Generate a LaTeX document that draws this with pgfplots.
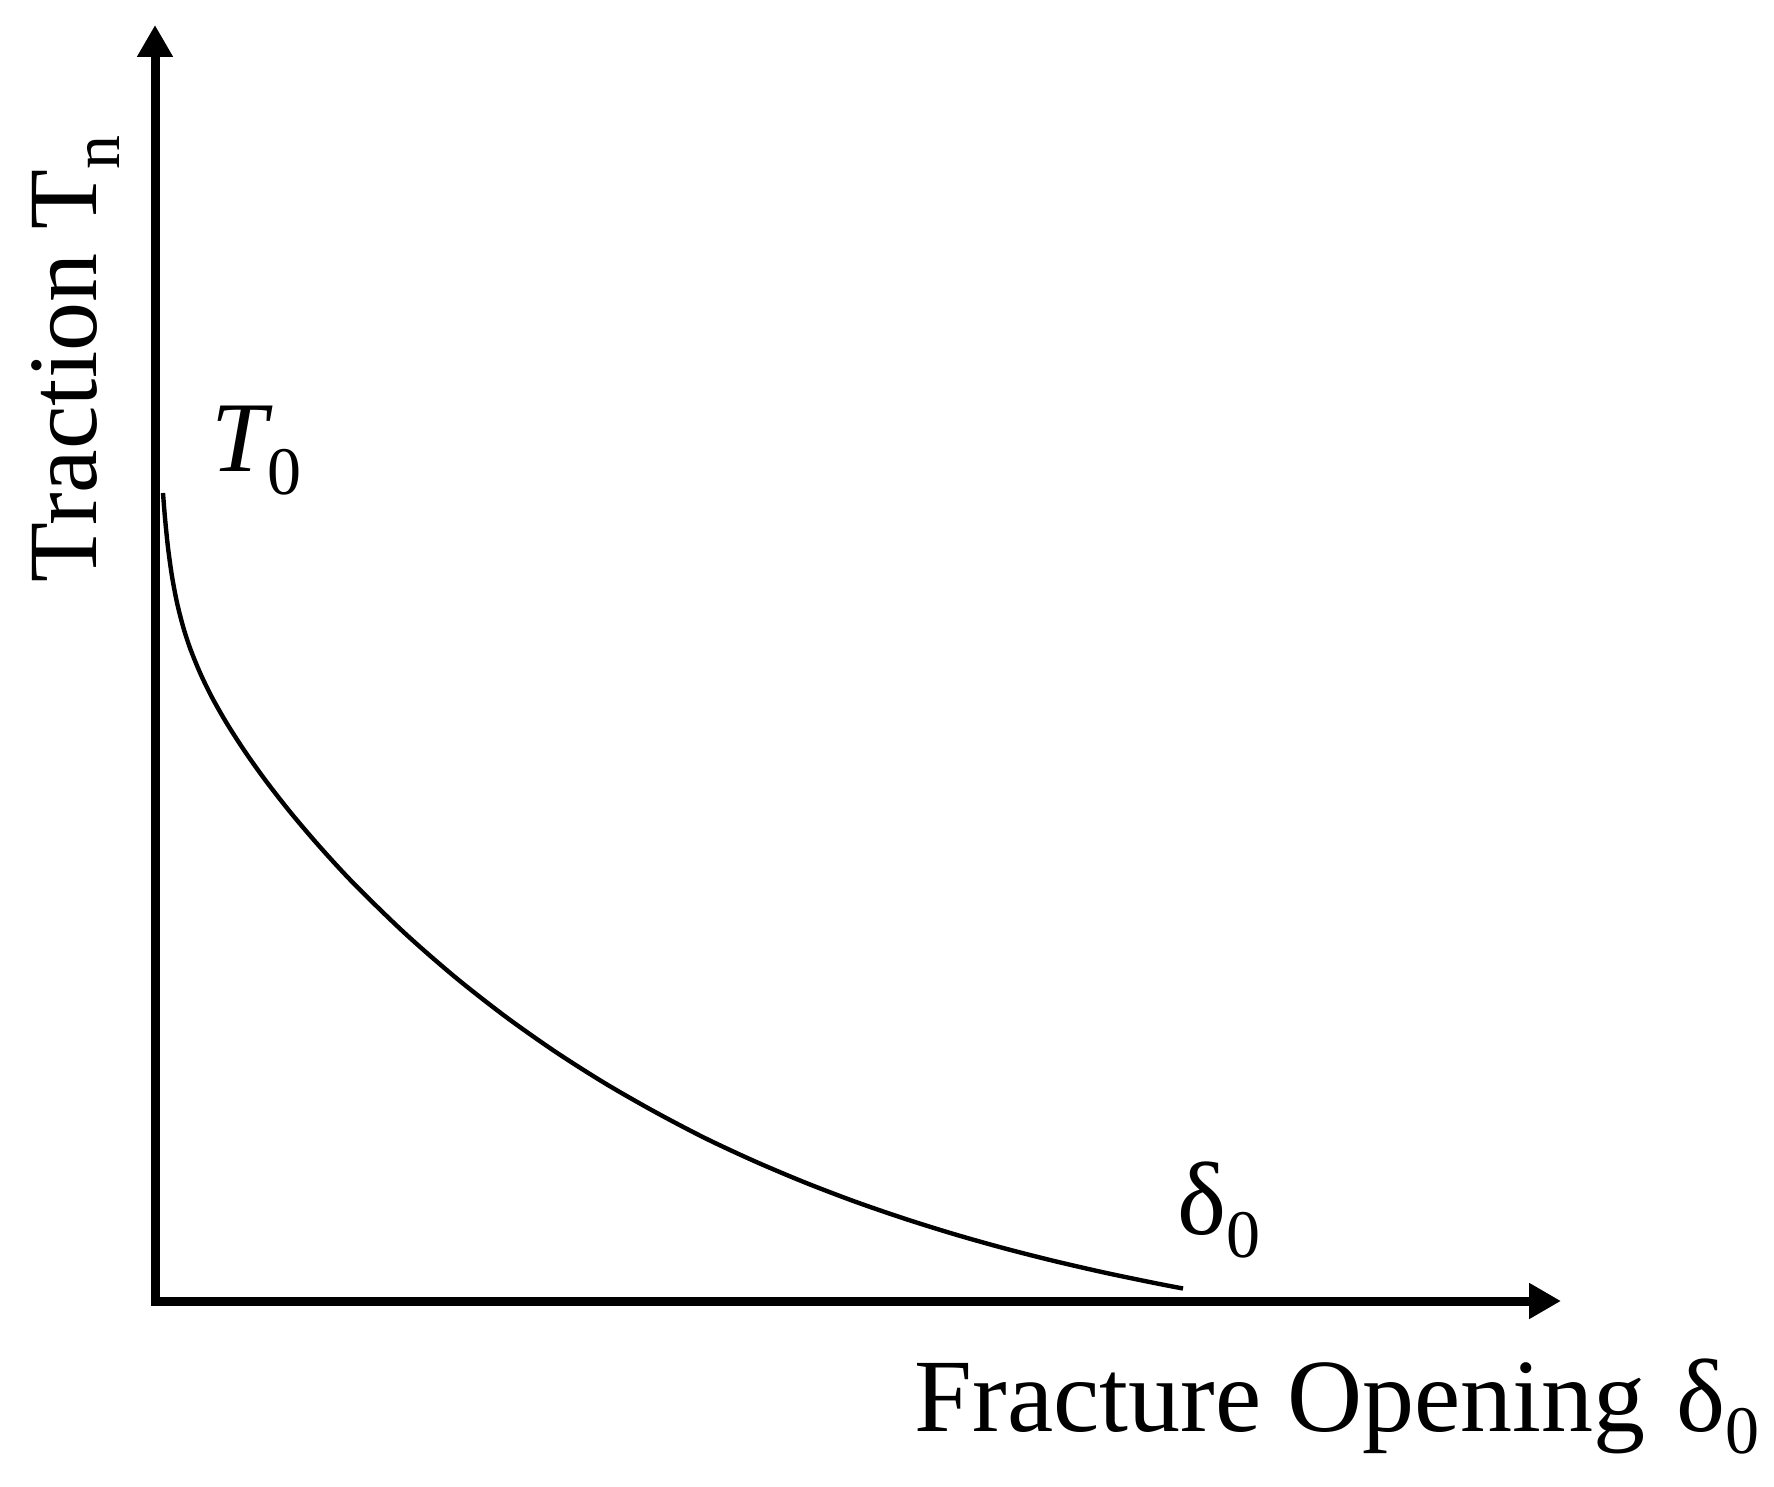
\documentclass[border=0pt]{standalone}
\usepackage{fontspec}
\setmainfont{Liberation Serif}
\usepackage{pgfplots}
\pgfplotsset{compat=1.18}
\usetikzlibrary{arrows.meta}
\newcommand{\sub}[1]{\raisebox{-5.6pt}{\fontsize{17}{17}\selectfont #1}}
\begin{document}
\begin{tikzpicture}
\useasboundingbox (-38.75pt,-46.25pt) rectangle (404.75pt,325.25pt);
\begin{axis}[
  at={(0,0)}, anchor=south west,
  scale only axis,
  width=351.5pt, height=319pt,
  xmin=0, xmax=1406, ymin=0, ymax=1276,
  axis lines=left,
  axis line style={line width=2.25pt, line cap=rect, -{Triangle[length=8pt,width=8.5pt]}},
  xtick=\empty, ytick=\empty,
  clip=false,
]
\addplot[line width=1.1pt, black, smooth, tension=0.5] coordinates {
(8,808) (10,783) (13,753.5) (17,724.7) (22,698.4) (28,674.7) (35,653)
(45,628.3) (57,603.6) (72,577.3) (90,549.4) (110,521.3) (135,489.2)
(165,454) (200,416.2) (250,367.6) (300,324) (350,284.8) (400,249.5)
(450,217.7) (500,189.1) (550,162.9) (600,139.6) (650,118.5) (700,99.4)
(750,82.2) (800,66.6) (850,52.5) (900,39.8) (950,28.3) (1000,17.9) (1028,12.5)
};
\end{axis}
\fontsize{26}{30}\selectfont
\node[anchor=base west, inner sep=0pt] at (189.75pt,-32.5pt) {Fracture Opening\hspace{0.3em}δ\sub{0}};
\node[anchor=base west, inner sep=0pt, rotate=90] at (-14.5pt,179.5pt) {\fontsize{24.5}{30}\selectfont Traction T\sub{n}};
\node[anchor=base west, inner sep=0pt] at (14pt,207.25pt) {\fontsize{25}{30}\selectfont\textit{T}\kern-1.5pt\sub{0}};
\node[anchor=base west, inner sep=0pt] at (255.5pt,16.5pt) {δ\sub{0}};
\end{tikzpicture}
\end{document}
